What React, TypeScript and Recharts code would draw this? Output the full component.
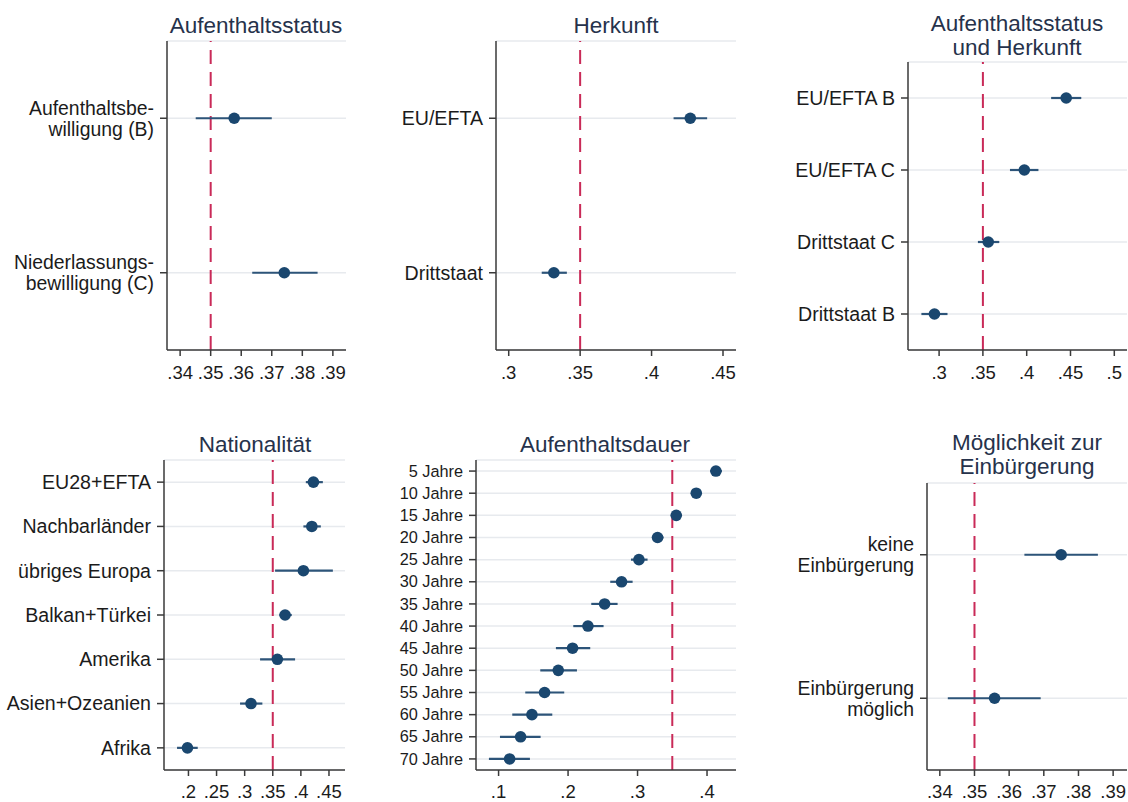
import React from "react";
import {
  ScatterChart,
  Scatter,
  XAxis,
  YAxis,
  CartesianGrid,
  ReferenceLine,
  ErrorBar,
} from "recharts";

// --- data (point estimate + 95% CI) ---

const statusLabels = [["Aufenthaltsbe-", "willigung (B)"], ["Niederlassungs-", "bewilligung (C)"]];
const statusMean = [0.3577, 0.3741];
const statusLow = [0.3451, 0.3636];
const statusHigh = [0.37, 0.385];
const statusTicks = [0.34, 0.35, 0.36, 0.37, 0.38, 0.39];

const originLabels = [["EU/EFTA"], ["Drittstaat"]];
const originMean = [0.4271, 0.3316];
const originLow = [0.4154, 0.3231];
const originHigh = [0.4389, 0.3407];
const originTicks = [0.3, 0.35, 0.4, 0.45];

const comboLabels = [["EU/EFTA B"], ["EU/EFTA C"], ["Drittstaat C"], ["Drittstaat B"]];
const comboMean = [0.4451, 0.3973, 0.3561, 0.2947];
const comboLow = [0.4279, 0.3809, 0.3443, 0.2798];
const comboHigh = [0.4623, 0.4134, 0.3687, 0.3096];
const comboTicks = [0.3, 0.35, 0.4, 0.45, 0.5];

const nationLabels = [
  ["EU28+EFTA"],
  ["Nachbarländer"],
  ["übriges Europa"],
  ["Balkan+Türkei"],
  ["Amerika"],
  ["Asien+Ozeanien"],
  ["Afrika"],
];
const nationMean = [0.4223, 0.4195, 0.4045, 0.3719, 0.3582, 0.3113, 0.1982];
const nationLow = [0.4088, 0.4045, 0.3541, 0.3618, 0.3274, 0.2918, 0.1797];
const nationHigh = [0.4391, 0.4355, 0.4569, 0.3838, 0.3897, 0.3315, 0.2165];
const nationTicks = [0.2, 0.25, 0.3, 0.35, 0.4, 0.45];

const durationLabels = [
  ["5 Jahre"], ["10 Jahre"], ["15 Jahre"], ["20 Jahre"], ["25 Jahre"], ["30 Jahre"], ["35 Jahre"],
  ["40 Jahre"], ["45 Jahre"], ["50 Jahre"], ["55 Jahre"], ["60 Jahre"], ["65 Jahre"], ["70 Jahre"],
];
const durationMean = [0.4128, 0.3845, 0.3557, 0.3288, 0.302, 0.277, 0.2526, 0.2286, 0.2065, 0.1859, 0.1662, 0.148, 0.1317, 0.1159];
const durationLow = [0.4046, 0.3768, 0.348, 0.3207, 0.2905, 0.2607, 0.2334, 0.2075, 0.1825, 0.16, 0.1384, 0.1197, 0.102, 0.0861];
const durationHigh = [0.4214, 0.3921, 0.3638, 0.3375, 0.3144, 0.2929, 0.2713, 0.2511, 0.2319, 0.2128, 0.1945, 0.1773, 0.1605, 0.1451];
const durationTicks = [0.1, 0.2, 0.3, 0.4];

const naturalLabels = [["keine", "Einbürgerung"], ["Einbürgerung", "möglich"]];
const naturalMean = [0.375, 0.3558];
const naturalLow = [0.3644, 0.3423];
const naturalHigh = [0.3856, 0.3691];
const naturalTicks = [0.34, 0.35, 0.36, 0.37, 0.38, 0.39];

const REFERENCE_VALUE = 0.35;

// --- styling ---

const FONT = '"Liberation Sans", Arial, Helvetica, sans-serif';
const NAVY = "#1a476f";
const CI_COLOR = "#2d5479";
const REF_COLOR = "#c92a58";
const AXIS_COLOR = "#3a3a3a";
const GRID_COLOR = "#e7eaee";
const TITLE_COLOR = "#26324b";
const LABEL_COLOR = "#1b1b1b";

const fmtTick = (v: number) => v.toFixed(2).replace(/^0/, "").replace(/0$/, "");

type Box = { x: number; y: number; w: number; h: number };
type Plot = { left: number; top: number; right: number; bottom: number };

interface PanelProps {
  box: Box;
  plot: Plot;
  domain: [number, number];
  labels: string[][];
  mean: number[];
  low: number[];
  high: number[];
  ticks: number[];
  labelSize: number;
  tickGap: number;
}

// multi-line category label, vertically centred on the row
function RowTick(props: any) {
  const { x, y, payload, labels, fontSize } = props;
  const lines: string[] = labels[payload.value] ?? [];
  const lh = 21;
  const first = -((lines.length - 1) * lh) / 2 + fontSize * 0.35;
  return (
    <text x={x} y={y} textAnchor="end" fontSize={fontSize} fill={LABEL_COLOR} fontFamily={FONT}>
      {lines.map((t, i) => (
        <tspan key={i} x={x} dy={i === 0 ? first : lh}>
          {t}
        </tspan>
      ))}
    </text>
  );
}

const Dot = (p: any) => <circle cx={p.cx} cy={p.cy} r={5.8} fill={NAVY} />;

function Panel({ box, plot, domain, labels, mean, low, high, ticks, labelSize, tickGap }: PanelProps) {
  const rows = labels.map((_, i) => ({
    row: i,
    mean: mean[i],
    err: [mean[i] - low[i], high[i] - mean[i]],
  }));
  const n = labels.length;
  const rowTicks = labels.map((_, i) => i);

  return (
    <div style={{ position: "absolute", left: box.x, top: box.y }}>
      <ScatterChart
        width={box.w}
        height={box.h}
        margin={{ top: plot.top - box.y, right: box.x + box.w - plot.right, bottom: 0, left: 0 }}
      >
        <CartesianGrid horizontal vertical={false} stroke={GRID_COLOR} strokeWidth={1.5} />
        <XAxis
          type="number"
          dataKey="mean"
          domain={domain}
          allowDataOverflow
          ticks={ticks}
          interval={0}
          tickFormatter={fmtTick}
          height={box.y + box.h - plot.bottom}
          tickSize={6}
          tickMargin={tickGap}
          axisLine={{ stroke: AXIS_COLOR, strokeWidth: 1.5 }}
          tickLine={{ stroke: AXIS_COLOR, strokeWidth: 1.5 }}
          tick={{ fontSize: 18.5, fill: LABEL_COLOR, fontFamily: FONT }}
        />
        <YAxis
          type="number"
          dataKey="row"
          domain={[-0.5, n - 0.5]}
          allowDataOverflow
          reversed
          ticks={rowTicks}
          interval={0}
          width={plot.left - box.x}
          tickSize={7}
          tickMargin={6}
          axisLine={{ stroke: AXIS_COLOR, strokeWidth: 1.5 }}
          tickLine={{ stroke: AXIS_COLOR, strokeWidth: 1.5 }}
          tick={(p: any) => <RowTick {...p} labels={labels} fontSize={labelSize} />}
        />
        <ReferenceLine x={REFERENCE_VALUE} stroke={REF_COLOR} strokeWidth={2} strokeDasharray="14 8" />
        <Scatter data={rows} fill={NAVY} shape={Dot} isAnimationActive={false}>
          <ErrorBar dataKey="err" direction="x" width={0} stroke={CI_COLOR} strokeWidth={2.2} />
        </Scatter>
      </ScatterChart>
    </div>
  );
}

const titles = [
  { cx: 256, y: 33, lines: ["Aufenthaltsstatus"] },
  { cx: 616, y: 33, lines: ["Herkunft"] },
  { cx: 1017, y: 31, lines: ["Aufenthaltsstatus", "und Herkunft"] },
  { cx: 255, y: 452, lines: ["Nationalität"] },
  { cx: 605, y: 452, lines: ["Aufenthaltsdauer"] },
  { cx: 1027, y: 450, lines: ["Möglichkeit zur", "Einbürgerung"] },
];

export default function App() {
  return (
    <div style={{ position: "absolute", left: 0, top: 0, width: 1128, height: 802, background: "#fff", overflow: "hidden" }}>
      <Panel
        box={{ x: 0, y: 0, w: 372, h: 390 }}
        plot={{ left: 167, top: 41, right: 346, bottom: 350 }}
        domain={[0.3357, 0.3943]}
        labels={statusLabels}
        mean={statusMean}
        low={statusLow}
        high={statusHigh}
        ticks={statusTicks}
        labelSize={19.4}
        tickGap={10}
      />
      <Panel
        box={{ x: 372, y: 0, w: 376, h: 390 }}
        plot={{ left: 496, top: 41, right: 736, bottom: 350 }}
        domain={[0.2911, 0.4591]}
        labels={originLabels}
        mean={originMean}
        low={originLow}
        high={originHigh}
        ticks={originTicks}
        labelSize={19.6}
        tickGap={10}
      />
      <Panel
        box={{ x: 748, y: 0, w: 380, h: 390 }}
        plot={{ left: 908, top: 62, right: 1127, bottom: 350 }}
        domain={[0.2645, 0.5145]}
        labels={comboLabels}
        mean={comboMean}
        low={comboLow}
        high={comboHigh}
        ticks={comboTicks}
        labelSize={19.6}
        tickGap={10}
      />
      <Panel
        box={{ x: 0, y: 400, w: 372, h: 402 }}
        plot={{ left: 164, top: 460, right: 345, bottom: 770 }}
        domain={[0.1565, 0.4785]}
        labels={nationLabels}
        mean={nationMean}
        low={nationLow}
        high={nationHigh}
        ticks={nationTicks}
        labelSize={19.6}
        tickGap={9}
      />
      <Panel
        box={{ x: 372, y: 400, w: 376, h: 402 }}
        plot={{ left: 476, top: 460, right: 736, bottom: 770 }}
        domain={[0.0675, 0.4417]}
        labels={durationLabels}
        mean={durationMean}
        low={durationLow}
        high={durationHigh}
        ticks={durationTicks}
        labelSize={16.3}
        tickGap={9}
      />
      <Panel
        box={{ x: 748, y: 400, w: 380, h: 402 }}
        plot={{ left: 927, top: 483, right: 1127, bottom: 770 }}
        domain={[0.3363, 0.394]}
        labels={naturalLabels}
        mean={naturalMean}
        low={naturalLow}
        high={naturalHigh}
        ticks={naturalTicks}
        labelSize={19.4}
        tickGap={9}
      />
      <svg
        width={1128}
        height={802}
        style={{ position: "absolute", left: 0, top: 0, pointerEvents: "none" }}
      >
        {titles.map((t, i) => (
          <text key={i} x={t.cx} y={t.y} textAnchor="middle" fontSize={22.5} fill={TITLE_COLOR} fontFamily={FONT}>
            {t.lines.map((line, j) => (
              <tspan key={j} x={t.cx} dy={j === 0 ? 0 : 23.5}>
                {line}
              </tspan>
            ))}
          </text>
        ))}
      </svg>
    </div>
  );
}
